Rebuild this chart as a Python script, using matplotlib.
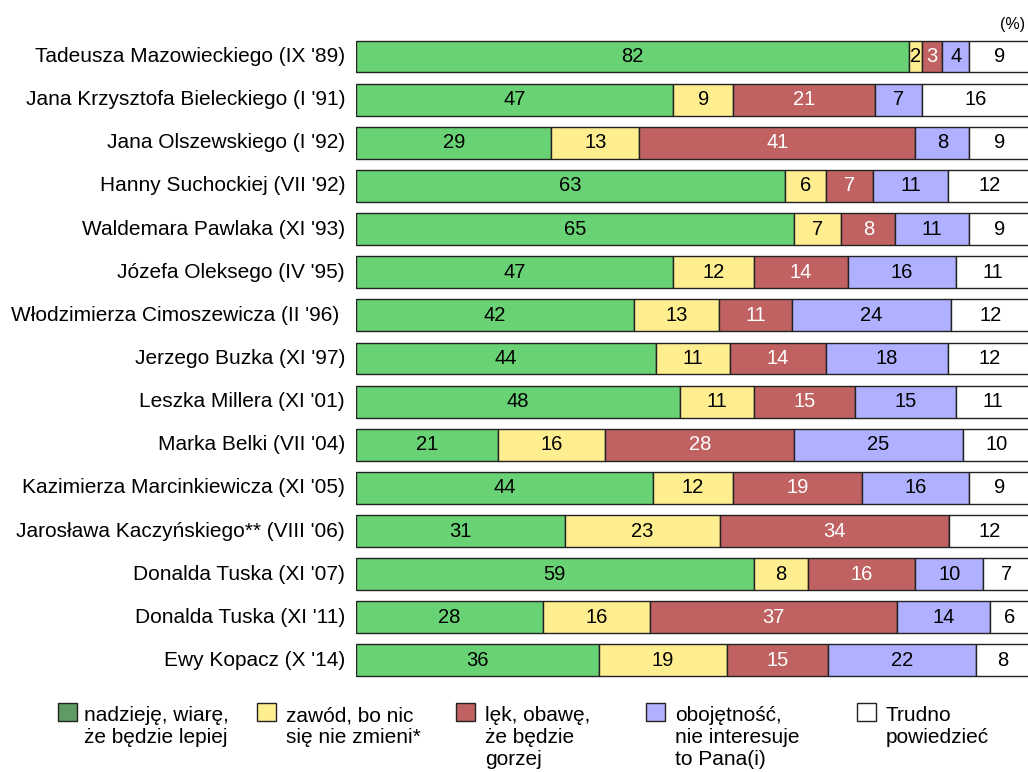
import matplotlib
matplotlib.use("Agg")
import matplotlib.pyplot as plt
from matplotlib.patches import Rectangle
import numpy as np

plt.rcParams['font.family'] = ['Liberation Sans', 'DejaVu Sans']

categories = [
    "Tadeusza Mazowieckiego (IX '89)",
    "Jana Krzysztofa Bieleckiego (I '91)",
    "Jana Olszewskiego (I '92)",
    "Hanny Suchockiej (VII '92)",
    "Waldemara Pawlaka (XI '93)",
    "Józefa Oleksego (IV '95)",
    "Włodzimierza Cimoszewicza (II '96) ",
    "Jerzego Buzka (XI '97)",
    "Leszka Millera (XI '01)",
    "Marka Belki (VII '04)",
    "Kazimierza Marcinkiewicza (XI '05)",
    "Jarosława Kaczyńskiego** (VIII '06)",
    "Donalda Tuska (XI '07)",
    "Donalda Tuska (XI '11)",
    "Ewy Kopacz (X '14)",
]
hope = [82, 47, 29, 63, 65, 47, 42, 44, 48, 21, 44, 31, 59, 28, 36]
disappointment = [2, 9, 13, 6, 7, 12, 13, 11, 11, 16, 12, 23, 8, 16, 19]
fear = [3, 21, 41, 7, 8, 14, 11, 14, 15, 28, 19, 34, 16, 37, 15]
indifference = [4, 7, 8, 11, 11, 16, 24, 18, 15, 25, 16, 0, 10, 14, 22]
hard_to_say = [9, 16, 9, 12, 9, 11, 12, 12, 11, 10, 9, 12, 7, 6, 8]

series_labels = [
    "nadzieję, wiarę,\nże będzie lepiej",
    "zawód, bo nic\nsię nie zmieni*",
    "lęk, obawę,\nże będzie\ngorzej",
    "obojętność,\nnie interesuje\nto Pana(i)",
    "Trudno\npowiedzieć",
]
bar_colors = ["#68D274", "#FFEE90", "#C06262", "#AFB0FF", "#FFFFFF"]
legend_colors = ["#5E9C63", "#FFEE90", "#C06262", "#AFB0FF", "#FFFFFF"]
text_colors = ["black", "black", "white", "black", "black"]

data = np.array([hope, disappointment, fear, indifference, hard_to_say], dtype=float)
totals = data.sum(axis=0)
pct = data / totals * 100

W, H = 1028, 772
fig = plt.figure(figsize=(W / 100, H / 100), dpi=100)
pitch = 43.14
top_c = 56.5
ax_top = top_c - pitch / 2
ax_bot = top_c + 14 * pitch + pitch / 2
ax = fig.add_axes([356 / W, 1 - ax_bot / H, (W - 356) / W + 0.002, (ax_bot - ax_top) / H])

y = np.arange(len(categories))
left = np.zeros(len(categories))
for k in range(5):
    ax.barh(y, pct[k], left=left, height=0.74, color=bar_colors[k],
            edgecolor="#222222", linewidth=1.0)
    for i in range(len(categories)):
        v = data[k, i]
        if v > 0:
            ax.text(left[i] + pct[k, i] / 2, y[i], f"{int(v)}", ha="center", va="center",
                    fontsize=14.5, color=text_colors[k])
    left += pct[k]

ax.set_xlim(0, 100)
ax.set_ylim(len(categories) - 0.5, -0.5)
ax.axis("off")

for i, c in enumerate(categories):
    fig.text(345 / W, 1 - (top_c + i * pitch) / H, c, ha="right", va="center", fontsize=15)

fig.text(1025 / W, 1 - 25 / H, "(%)", ha="right", va="center", fontsize=11.5)

sq_x = [58, 257, 456, 646, 857]
tx_x = [84, 286, 485, 675, 886]
for k in range(5):
    fig.add_artist(Rectangle((sq_x[k] / W, 1 - 721 / H), 19 / W, 18 / H,
                             transform=fig.transFigure, facecolor=legend_colors[k],
                             edgecolor="#222222", linewidth=1.0))
    fig.text(tx_x[k] / W, 1 - 706 / H, series_labels[k], ha="left", va="top",
             fontsize=15, linespacing=1.2)

fig.savefig("out.png", dpi=100)
